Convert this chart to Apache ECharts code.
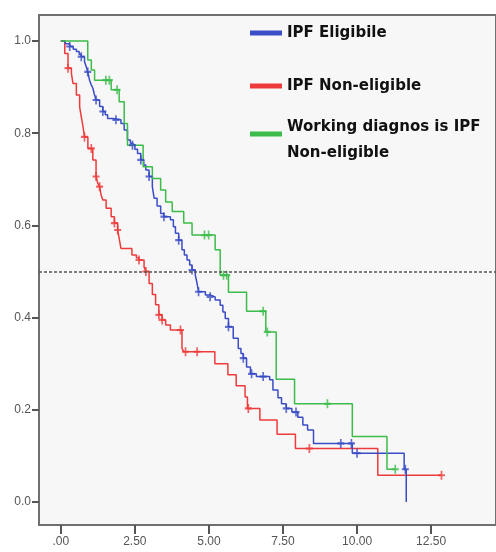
<!DOCTYPE html>
<html>
<head>
<meta charset="utf-8">
<script src="https://cdn.jsdelivr.net/npm/echarts@6/dist/echarts.min.js"></script>
<style>
html,body{margin:0;padding:0;background:#fff;}
#chart{width:496px;height:552px;}
</style>
</head>
<body>
<div id="chart"></div>
<script>
// ---- tick labels ----
const xTicks = [0, 2.5, 5, 7.5, 10, 12.5];
const xTickLabels = ['.00', '2.50', '5.00', '7.50', '10.00', '12.50'];
const yTicks = [0, 0.2, 0.4, 0.6, 0.8, 1.0];
const yTickLabels = ['0.0', '0.2', '0.4', '0.6', '0.8', '1.0'];

// ---- series names ----
const seriesNames = ['IPF Eligibile', 'IPF Non-eligible', 'Working diagnos is IPF Non-eligible'];
const seriesColors = ['#3a4cc6', '#ee3a3a', '#3cbc4a'];

// ---- IPF Eligibile: [time, survival] ----
const eligibleSteps = [
  [0,1.0],[0.15,0.994],[0.30,0.988],[0.42,0.982],[0.525,0.977],[0.62,0.971],[0.69,0.966],
  [0.80,0.955],[0.86,0.944],[0.91,0.933],[0.97,0.915],[1.02,0.906],[1.08,0.898],[1.13,0.885],
  [1.19,0.872],[1.31,0.858],[1.42,0.847],[1.50,0.840],[1.58,0.832],[1.75,0.829],[2.03,0.821],
  [2.14,0.807],[2.25,0.785],[2.35,0.778],[2.42,0.774],[2.50,0.765],[2.59,0.756],[2.70,0.742],
  [2.80,0.731],[2.87,0.720],[2.98,0.706],[3.09,0.684],[3.15,0.659],[3.25,0.642],[3.37,0.626],
  [3.48,0.619],[3.70,0.612],[3.80,0.597],[3.87,0.583],[3.98,0.568],[4.09,0.547],[4.17,0.536],
  [4.26,0.525],[4.35,0.514],[4.43,0.503],[4.54,0.492],[4.60,0.474],[4.65,0.456],[4.88,0.449],
  [5.04,0.445],[5.21,0.438],[5.38,0.427],[5.47,0.412],[5.55,0.398],[5.66,0.380],[5.82,0.355],
  [5.99,0.333],[6.08,0.322],[6.16,0.312],[6.27,0.293],[6.40,0.278],[6.60,0.272],[7.05,0.265],
  [7.16,0.243],[7.33,0.226],[7.45,0.213],[7.61,0.203],[7.80,0.195],[8.00,0.184],[8.17,0.167],
  [8.33,0.156],[8.53,0.127],[9.84,0.106],[11.59,0.071],[11.66,0.0]
];
const eligibleCensored = [
  [0.30,0.988],[0.69,0.966],[0.91,0.933],[1.19,0.872],[1.42,0.847],[1.86,0.829],[2.42,0.774],
  [2.70,0.742],[2.98,0.706],[3.48,0.619],[3.98,0.568],[4.43,0.503],[4.65,0.456],[5.04,0.445],
  [5.66,0.380],[6.16,0.312],[6.44,0.278],[6.83,0.272],[7.61,0.203],[7.94,0.195],[9.45,0.127],
  [9.81,0.127],[10.00,0.106],[11.63,0.071]
];

// ---- IPF Non-eligible ----
const nonEligibleSteps = [
  [0,1.0],[0.134,0.973],[0.244,0.941],[0.358,0.930],[0.41,0.908],[0.525,0.883],[0.636,0.857],
  [0.69,0.836],[0.75,0.814],[0.80,0.792],[0.914,0.767],[1.08,0.742],[1.19,0.706],[1.25,0.691],
  [1.31,0.684],[1.36,0.666],[1.42,0.655],[1.53,0.637],[1.70,0.619],[1.81,0.605],[1.92,0.590],
  [1.97,0.572],[2.03,0.550],[2.40,0.536],[2.55,0.530],[2.64,0.525],[2.81,0.510],[2.87,0.500],
  [2.98,0.474],[3.09,0.450],[3.20,0.428],[3.31,0.406],[3.42,0.395],[3.54,0.384],[3.70,0.373],
  [4.09,0.333],[4.15,0.326],[5.20,0.300],[5.64,0.276],[5.92,0.252],[6.22,0.228],[6.30,0.203],
  [6.72,0.178],[7.30,0.147],[7.92,0.116],[10.70,0.058],[12.85,0.058]
];
const nonEligibleCensored = [
  [0.244,0.941],[0.80,0.792],[1.03,0.767],[1.19,0.706],[1.31,0.684],[1.81,0.605],[1.92,0.590],
  [2.64,0.525],[2.87,0.500],[3.31,0.406],[3.42,0.395],[4.04,0.373],[4.21,0.326],[4.60,0.326],
  [6.33,0.203],[8.39,0.116],[12.85,0.058]
];

// ---- Working diagnosis is IPF Non-eligible ----
const workingSteps = [
  [0,1.0],[0.91,0.959],[1.03,0.937],[1.14,0.915],[1.70,0.894],[1.97,0.868],[2.14,0.821],
  [2.25,0.774],[2.78,0.727],[3.09,0.702],[3.37,0.677],[3.54,0.651],[3.76,0.630],[4.15,0.605],
  [4.43,0.579],[5.21,0.547],[5.38,0.492],[5.66,0.455],[6.27,0.414],[6.92,0.369],[7.27,0.266],
  [7.89,0.213],[9.84,0.142],[11.01,0.071],[11.29,0.071]
];
const workingCensored = [
  [1.52,0.915],[1.64,0.915],[1.90,0.894],[4.85,0.579],[4.99,0.579],[5.49,0.492],[5.60,0.492],
  [6.83,0.414],[6.97,0.369],[9.00,0.213],[11.29,0.071]
];

const stepData = [eligibleSteps, nonEligibleSteps, workingSteps];
const censorData = [eligibleCensored, nonEligibleCensored, workingCensored];

const crossPath = 'path://M3.8,0 H6.2 V3.8 H10 V6.2 H6.2 V10 H3.8 V6.2 H0 V3.8 H3.8 Z';

const chart = echarts.init(document.getElementById('chart'), null, {renderer: 'canvas'});

const series = [];
[1, 0, 2].forEach(function (i) {
  series.push({
    name: seriesNames[i],
    type: 'line',
    step: 'end',
    data: stepData[i],
    showSymbol: false,
    symbol: 'none',
    color: seriesColors[i],
    lineStyle: {width: 1.5, color: seriesColors[i]},
    z: 3,
    silent: true
  });
  series.push({
    name: seriesNames[i],
    type: 'scatter',
    data: censorData[i],
    symbol: crossPath,
    symbolSize: [7, 9],
    itemStyle: {color: seriesColors[i]},
    z: 4,
    silent: true
  });
});
// reference line at 0.5
series.push({
  name: 'ref',
  type: 'line',
  data: [],
  markLine: {
    silent: true,
    symbol: 'none',
    label: {show: false},
    lineStyle: {color: '#555', type: [3, 2], width: 1.5},
    data: [{yAxis: 0.5}]
  }
});

const legendText = {color: '#111', fontFamily: 'DejaVu Sans', fontWeight: 'bold', fontSize: 15};

const option = {
  animation: false,
  backgroundColor: '#ffffff',
  grid: {
    left: 39, top: 15, right: -4, bottom: 27,
    show: true, backgroundColor: '#f7f7f7', borderColor: '#707070', borderWidth: 2
  },
  xAxis: {
    type: 'value',
    min: -0.736, max: 14.69,
    splitLine: {show: false},
    axisLine: {show: true, onZero: false, lineStyle: {color: '#707070', width: 2}},
    axisTick: {show: true, length: 9, lineStyle: {color: '#555', width: 2}, customValues: xTicks},
    axisLabel: {
      customValues: xTicks,
      margin: 11,
      color: '#555',
      fontFamily: 'Liberation Sans',
      fontSize: 12,
      formatter: function (v) {
        const k = xTicks.findIndex(t => Math.abs(t - v) < 1e-6);
        return k >= 0 ? xTickLabels[k] : '';
      }
    }
  },
  yAxis: {
    type: 'value',
    min: -0.0499, max: 1.0564,
    splitLine: {show: false},
    axisLine: {show: true, onZero: false, lineStyle: {color: '#707070', width: 2}},
    axisTick: {show: true, length: 7, lineStyle: {color: '#555', width: 2}, customValues: yTicks},
    axisLabel: {
      customValues: yTicks,
      margin: 8,
      color: '#555',
      fontFamily: 'Liberation Sans',
      fontSize: 12,
      formatter: function (v) {
        const k = yTicks.findIndex(t => Math.abs(t - v) < 1e-6);
        return k >= 0 ? yTickLabels[k] : '';
      }
    }
  },
  legend: [
    {
      data: [seriesNames[0]], left: 250, top: 23, padding: 0, orient: 'vertical',
      icon: 'rect', itemWidth: 32, itemHeight: 5,
      textStyle: Object.assign({lineHeight: 20}, legendText), selectedMode: false
    },
    {
      data: [seriesNames[1]], left: 250, top: 76, padding: 0, orient: 'vertical',
      icon: 'rect', itemWidth: 32, itemHeight: 5,
      textStyle: Object.assign({lineHeight: 20}, legendText), selectedMode: false
    },
    {
      data: [seriesNames[2]], left: 250, top: 114, padding: 0, orient: 'vertical',
      icon: 'path://M0,0 H32 V5 H0 Z M0,17 L0.001,17', itemWidth: 32, itemHeight: 17,
      textStyle: Object.assign({lineHeight: 26}, legendText), selectedMode: false,
      formatter: function () { return 'Working diagnos is IPF\nNon-eligible'; }
    }
  ],
  series: series
};
chart.setOption(option);
</script>
</body>
</html>
